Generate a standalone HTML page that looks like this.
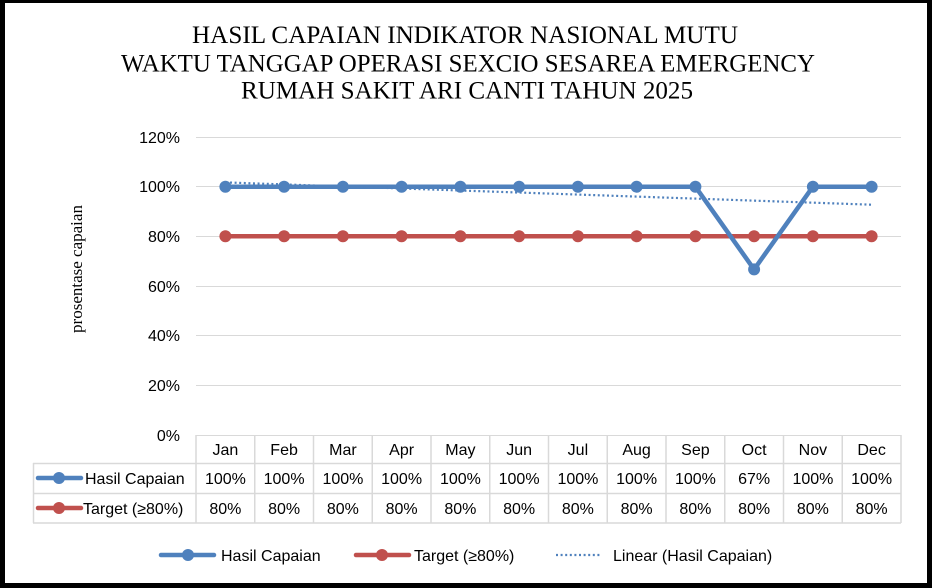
<!DOCTYPE html>
<html><head><meta charset="utf-8"><style>
html,body{margin:0;padding:0;background:#fff;}
svg{display:block;}
</style></head><body>
<svg width="932" height="588" viewBox="0 0 932 588" xmlns="http://www.w3.org/2000/svg">
<rect x="0" y="0" width="932" height="588" fill="#000"/>
<rect x="5" y="3" width="922" height="580" fill="#fff"/>

<!-- Title -->
<g font-family="'Liberation Serif', serif" font-size="25" fill="#000" text-anchor="middle">
<text x="465" y="43" textLength="546" lengthAdjust="spacingAndGlyphs">HASIL CAPAIAN INDIKATOR NASIONAL MUTU</text>
<text x="468" y="71.5" textLength="694" lengthAdjust="spacingAndGlyphs">WAKTU TANGGAP OPERASI SEXCIO SESAREA EMERGENCY</text>
<text x="467" y="98.5" textLength="452" lengthAdjust="spacingAndGlyphs">RUMAH SAKIT ARI CANTI TAHUN 2025</text>
</g>

<!-- Y axis title -->
<text x="0" y="0" transform="translate(82,269) rotate(-90)" font-family="'Liberation Serif', serif" font-size="17" text-anchor="middle" fill="#000">prosentase capaian</text>

<!-- gridlines -->
<g stroke="#d9d9d9" stroke-width="1">
<line x1="196" y1="137.5" x2="901" y2="137.5"/>
<line x1="196" y1="186.5" x2="901" y2="186.5"/>
<line x1="196" y1="236.5" x2="901" y2="236.5"/>
<line x1="196" y1="286.5" x2="901" y2="286.5"/>
<line x1="196" y1="335.5" x2="901" y2="335.5"/>
<line x1="196" y1="385.5" x2="901" y2="385.5"/>
<line x1="196" y1="435.5" x2="901" y2="435.5"/>
</g>

<!-- tick labels -->
<g font-family="'Liberation Sans', sans-serif" font-size="16" fill="#000" text-anchor="end">
<text x="180" y="143">120%</text>
<text x="180" y="192">100%</text>
<text x="180" y="242">80%</text>
<text x="180" y="292">60%</text>
<text x="180" y="341">40%</text>
<text x="180" y="391">20%</text>
<text x="180" y="441">0%</text>
</g>

<!-- data table grid -->
<g stroke="#d9d9d9" stroke-width="1.5" fill="none">
<line x1="33" y1="463.5" x2="901" y2="463.5"/>
<line x1="33" y1="493.5" x2="901" y2="493.5"/>
<line x1="33" y1="523" x2="901" y2="523"/>
<line x1="33.5" y1="463" x2="33.5" y2="523"/>
<line x1="196" y1="435" x2="196" y2="523"/>
<line x1="254.75" y1="435" x2="254.75" y2="523"/>
<line x1="313.5" y1="435" x2="313.5" y2="523"/>
<line x1="372.25" y1="435" x2="372.25" y2="523"/>
<line x1="431" y1="435" x2="431" y2="523"/>
<line x1="489.75" y1="435" x2="489.75" y2="523"/>
<line x1="548.5" y1="435" x2="548.5" y2="523"/>
<line x1="607.25" y1="435" x2="607.25" y2="523"/>
<line x1="666" y1="435" x2="666" y2="523"/>
<line x1="724.75" y1="435" x2="724.75" y2="523"/>
<line x1="783.5" y1="435" x2="783.5" y2="523"/>
<line x1="842.25" y1="435" x2="842.25" y2="523"/>
<line x1="901" y1="435" x2="901" y2="523"/>
</g>

<!-- table text -->
<g font-family="'Liberation Sans', sans-serif" font-size="16" fill="#000" text-anchor="middle">
<text x="225.4" y="455">Jan</text><text x="284.1" y="455">Feb</text><text x="342.9" y="455">Mar</text><text x="401.6" y="455">Apr</text><text x="460.4" y="455">May</text><text x="519.1" y="455">Jun</text><text x="577.9" y="455">Jul</text><text x="636.6" y="455">Aug</text><text x="695.4" y="455">Sep</text><text x="754.1" y="455">Oct</text><text x="812.9" y="455">Nov</text><text x="871.6" y="455">Dec</text>

<text x="225.4" y="484">100%</text><text x="284.1" y="484">100%</text><text x="342.9" y="484">100%</text><text x="401.6" y="484">100%</text><text x="460.4" y="484">100%</text><text x="519.1" y="484">100%</text><text x="577.9" y="484">100%</text><text x="636.6" y="484">100%</text><text x="695.4" y="484">100%</text><text x="754.1" y="484">67%</text><text x="812.9" y="484">100%</text><text x="871.6" y="484">100%</text>

<text x="225.4" y="514">80%</text><text x="284.1" y="514">80%</text><text x="342.9" y="514">80%</text><text x="401.6" y="514">80%</text><text x="460.4" y="514">80%</text><text x="519.1" y="514">80%</text><text x="577.9" y="514">80%</text><text x="636.6" y="514">80%</text><text x="695.4" y="514">80%</text><text x="754.1" y="514">80%</text><text x="812.9" y="514">80%</text><text x="871.6" y="514">80%</text>
</g>
<g font-family="'Liberation Sans', sans-serif" font-size="16" fill="#000">
<text x="85" y="484">Hasil Capaian</text>
<text x="83" y="514">Target (≥80%)</text>
</g>
<!-- table legend keys -->
<line x1="38" y1="478" x2="81" y2="478" stroke="#4f81bd" stroke-width="4.5" stroke-linecap="round"/>
<circle cx="59" cy="478" r="6" fill="#4f81bd"/>
<line x1="38" y1="508" x2="81" y2="508" stroke="#c0504d" stroke-width="4.5" stroke-linecap="round"/>
<circle cx="59" cy="508" r="6" fill="#c0504d"/>

<!-- Target series -->
<polyline points="225.4,236.3 871.6,236.3" fill="none" stroke="#c0504d" stroke-width="4.5" stroke-linejoin="round"/>
<g fill="#c0504d">
<circle cx="225.4" cy="236.3" r="6"/><circle cx="284.1" cy="236.3" r="6"/><circle cx="342.9" cy="236.3" r="6"/><circle cx="401.6" cy="236.3" r="6"/><circle cx="460.4" cy="236.3" r="6"/><circle cx="519.1" cy="236.3" r="6"/><circle cx="577.9" cy="236.3" r="6"/><circle cx="636.6" cy="236.3" r="6"/><circle cx="695.4" cy="236.3" r="6"/><circle cx="754.1" cy="236.3" r="6"/><circle cx="812.9" cy="236.3" r="6"/><circle cx="871.6" cy="236.3" r="6"/>
</g>

<!-- Hasil series -->
<polyline points="225.4,186.7 284.1,186.7 342.9,186.7 401.6,186.7 460.4,186.7 519.1,186.7 577.9,186.7 636.6,186.7 695.4,186.7 754.1,269.4 812.9,186.7 871.6,186.7" fill="none" stroke="#4f81bd" stroke-width="4.5" stroke-linejoin="round"/>
<g fill="#4f81bd">
<circle cx="225.4" cy="186.7" r="6"/><circle cx="284.1" cy="186.7" r="6"/><circle cx="342.9" cy="186.7" r="6"/><circle cx="401.6" cy="186.7" r="6"/><circle cx="460.4" cy="186.7" r="6"/><circle cx="519.1" cy="186.7" r="6"/><circle cx="577.9" cy="186.7" r="6"/><circle cx="636.6" cy="186.7" r="6"/><circle cx="695.4" cy="186.7" r="6"/><circle cx="754.1" cy="269.4" r="6"/><circle cx="812.9" cy="186.7" r="6"/><circle cx="871.6" cy="186.7" r="6"/>
</g>

<!-- Trendline -->
<line x1="225.4" y1="182.4" x2="871.6" y2="204.7" stroke="#4f81bd" stroke-width="2.2" stroke-dasharray="2 2.6"/>

<!-- Bottom legend -->
<line x1="161" y1="555" x2="214" y2="555" stroke="#4f81bd" stroke-width="4.5" stroke-linecap="round"/>
<circle cx="188" cy="555" r="6" fill="#4f81bd"/>
<line x1="356" y1="555" x2="409" y2="555" stroke="#c0504d" stroke-width="4.5" stroke-linecap="round"/>
<circle cx="382" cy="555" r="6" fill="#c0504d"/>
<line x1="556" y1="555" x2="602" y2="555" stroke="#4f81bd" stroke-width="2.2" stroke-dasharray="2 2.6"/>
<g font-family="'Liberation Sans', sans-serif" font-size="16" fill="#000">
<text x="221" y="561">Hasil Capaian</text>
<text x="414" y="561">Target (≥80%)</text>
<text x="613" y="561">Linear (Hasil Capaian)</text>
</g>
</svg>
</body></html>
